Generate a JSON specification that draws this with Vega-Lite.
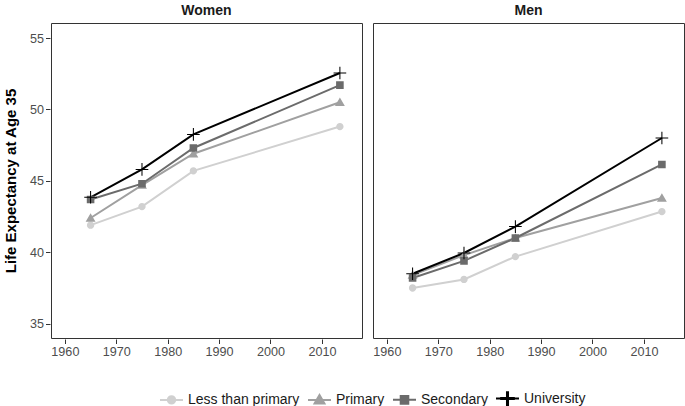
{
  "$schema": "https://vega.github.io/schema/vega-lite/v6.json",
  "padding": {"left": 3, "top": 4, "right": 2, "bottom": 2},
  "autosize": {"type": "pad"},
  "data": {"values": [
    {"sex": "Women", "edu": "Less than primary", "year": 1965, "le": 41.9},
    {"sex": "Women", "edu": "Less than primary", "year": 1975, "le": 43.2},
    {"sex": "Women", "edu": "Less than primary", "year": 1985, "le": 45.7},
    {"sex": "Women", "edu": "Less than primary", "year": 2013.5, "le": 48.8},
    {"sex": "Women", "edu": "Primary", "year": 1965, "le": 42.4},
    {"sex": "Women", "edu": "Primary", "year": 1975, "le": 44.7},
    {"sex": "Women", "edu": "Primary", "year": 1985, "le": 46.9},
    {"sex": "Women", "edu": "Primary", "year": 2013.5, "le": 50.5},
    {"sex": "Women", "edu": "Secondary", "year": 1965, "le": 43.7},
    {"sex": "Women", "edu": "Secondary", "year": 1975, "le": 44.8},
    {"sex": "Women", "edu": "Secondary", "year": 1985, "le": 47.3},
    {"sex": "Women", "edu": "Secondary", "year": 2013.5, "le": 51.7},
    {"sex": "Women", "edu": "University", "year": 1965, "le": 43.85},
    {"sex": "Women", "edu": "University", "year": 1975, "le": 45.8},
    {"sex": "Women", "edu": "University", "year": 1985, "le": 48.25},
    {"sex": "Women", "edu": "University", "year": 2013.5, "le": 52.55},
    {"sex": "Men", "edu": "Less than primary", "year": 1965, "le": 37.5},
    {"sex": "Men", "edu": "Less than primary", "year": 1975, "le": 38.1},
    {"sex": "Men", "edu": "Less than primary", "year": 1985, "le": 39.7},
    {"sex": "Men", "edu": "Less than primary", "year": 2013.5, "le": 42.85},
    {"sex": "Men", "edu": "Primary", "year": 1965, "le": 38.4},
    {"sex": "Men", "edu": "Primary", "year": 1975, "le": 39.8},
    {"sex": "Men", "edu": "Primary", "year": 1985, "le": 41.0},
    {"sex": "Men", "edu": "Primary", "year": 2013.5, "le": 43.8},
    {"sex": "Men", "edu": "Secondary", "year": 1965, "le": 38.2},
    {"sex": "Men", "edu": "Secondary", "year": 1975, "le": 39.4},
    {"sex": "Men", "edu": "Secondary", "year": 1985, "le": 41.0},
    {"sex": "Men", "edu": "Secondary", "year": 2013.5, "le": 46.15},
    {"sex": "Men", "edu": "University", "year": 1965, "le": 38.5},
    {"sex": "Men", "edu": "University", "year": 1975, "le": 39.95},
    {"sex": "Men", "edu": "University", "year": 1985, "le": 41.8},
    {"sex": "Men", "edu": "University", "year": 2013.5, "le": 48.0}
  ]},
  "facet": {
    "column": {
      "field": "sex", "type": "nominal", "sort": ["Women", "Men"],
      "header": {"title": null, "labelFontSize": 14, "labelFontWeight": "bold", "labelFont": "Liberation Sans", "labelColor": "#1a1a1a", "labelPadding": 4}
    }
  },
  "spacing": 9,
  "spec": {
    "width": 311,
    "height": 315,
    "encoding": {
      "x": {"field": "year", "type": "quantitative", "title": null,
            "scale": {"domain": [1957.3, 2017.8], "nice": false, "zero": false},
            "axis": {"values": [1960, 1970, 1980, 1990, 2000, 2010], "format": "d"}},
      "y": {"field": "le", "type": "quantitative", "title": "Life Expectancy at Age 35",
            "scale": {"domain": [34, 56.05], "nice": false, "zero": false},
            "axis": {"values": [35, 40, 45, 50, 55]}}
    },
    "layer": [
      {
        "mark": {"type": "line", "strokeWidth": 2},
        "encoding": {
          "color": {"field": "edu", "type": "nominal",
                    "scale": {"domain": ["Less than primary", "Primary", "Secondary", "University"],
                              "range": ["#d0d0d0", "#a0a0a0", "#6b6b6b", "#000000"]},
                    "legend": {
                      "title": null, "orient": "none", "direction": "horizontal",
                      "legendX": 108, "legendY": 363,
                      "symbolSize": 529, "symbolStrokeWidth": 2,
                      "labelFontSize": 14, "labelFont": "Liberation Sans", "labelColor": "#1a1a1a",
                      "labelOffset": 4, "columnPadding": 4
                    }},
          "detail": {"field": "edu"}
        }
      },
      {
        "mark": {"type": "point", "filled": true, "opacity": 1, "size": 529},
        "encoding": {
          "color": {"field": "edu", "type": "nominal"},
          "shape": {"field": "edu", "type": "nominal",
                    "scale": {"domain": ["Less than primary", "Primary", "Secondary", "University"],
                              "range": [
                                "M-1,0L1,0M0.32,0A0.32,0.32,0,1,1,-0.32,0A0.32,0.32,0,1,1,0.32,0Z",
                                "M-1,0L1,0M0,-0.42L0.43,0.32L-0.43,0.32Z",
                                "M-1,0L1,0M-0.33,-0.33L0.33,-0.33L0.33,0.33L-0.33,0.33Z",
                                "M-1,0L1,0M-0.55,-0.045L-0.045,-0.045L-0.045,-0.55L0.045,-0.55L0.045,-0.045L0.55,-0.045L0.55,0.045L0.045,0.045L0.045,0.55L-0.045,0.55L-0.045,0.045L-0.55,0.045Z"
                              ]}}
        }
      }
    ]
  },
  "config": {
    "view": {"stroke": "#333333", "strokeWidth": 1},
    "axis": {"grid": false, "domain": false, "tickColor": "#333333", "tickSize": 4.5,
             "labelColor": "#4d4d4d", "labelFontSize": 12.6, "labelFont": "Liberation Sans", "labelPadding": 2,
             "titleFont": "Liberation Sans", "titleFontSize": 15, "titleFontWeight": "bold", "titleColor": "#000000"},
    "axisY": {"titlePadding": 11}
  }
}
